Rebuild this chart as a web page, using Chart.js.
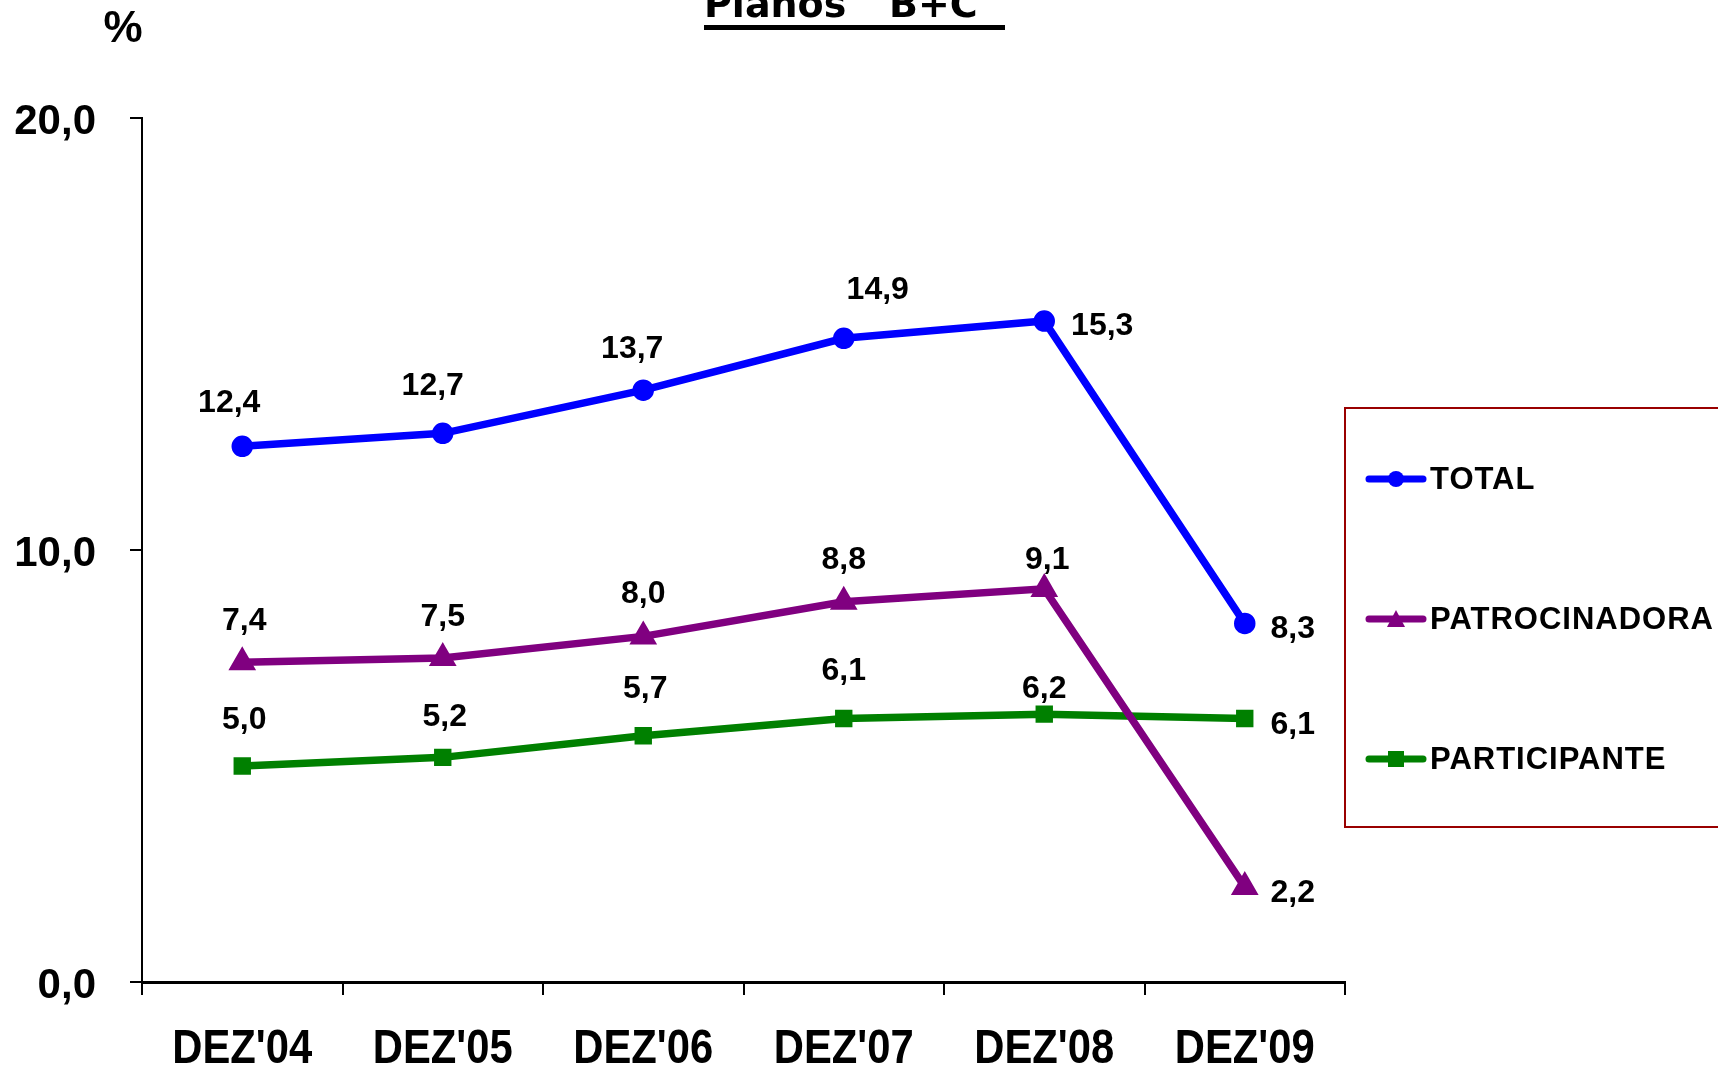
<!DOCTYPE html>
<html>
<head>
<meta charset="utf-8">
<script src="https://cdn.jsdelivr.net/npm/chart.js@4"></script>
<style>
  body { margin: 0; background: #fff; }
  canvas { display: block; }
</style>
</head>
<body>
<canvas id="grafico" width="1718" height="1067"></canvas>
<script>
// dados do gráfico
const categorias = ["DEZ'04", "DEZ'05", "DEZ'06", "DEZ'07", "DEZ'08", "DEZ'09"];
const total = [12.4, 12.7, 13.7, 14.9, 15.3, 8.3];
const patrocinadora = [7.4, 7.5, 8.0, 8.8, 9.1, 2.2];
const participante = [5.0, 5.2, 5.7, 6.1, 6.2, 6.1];
const ticksY = [0, 10, 20];

// deslocamento dos rótulos em relação ao ponto (px)
const offTotal = [[-13, -43], [-10, -47], [-11, -41], [34, -48], [58, 5], [48, 6]];
const offPatroc = [[2, -41], [0, -41], [0, -42], [0, -42], [3, -29], [48, 6]];
const offPartic = [[2, -46], [2, -40], [2, -47], [0, -47], [0, -25], [48, 7]];

const fmt = v => v.toFixed(1).replace('.', ',');
const BOLD = '"Liberation Sans", Arial, sans-serif';

// rótulos de valor
const rotulos = {
  id: 'rotulos',
  afterDatasetsDraw(chart) {
    const ctx = chart.ctx;
    ctx.save();
    ctx.font = 'bold 32px ' + BOLD;
    ctx.fillStyle = '#000';
    ctx.textAlign = 'center';
    ctx.textBaseline = 'middle';
    chart.data.datasets.forEach((ds, i) => {
      const meta = chart.getDatasetMeta(i);
      meta.data.forEach((p, j) => {
        const o = ds.offsets[j];
        ctx.fillText(fmt(ds.data[j]), p.x + o[0], p.y + o[1]);
      });
    });
    ctx.restore();
  }
};

// rótulos do eixo x em fonte estreita (comprime a bold)
const eixoX = {
  id: 'eixoX',
  afterDraw(chart) {
    const ctx = chart.ctx;
    const sx = chart.scales.x;
    ctx.save();
    ctx.font = 'bold 48px ' + BOLD;
    ctx.fillStyle = '#000';
    ctx.textAlign = 'center';
    ctx.textBaseline = 'middle';
    categorias.forEach((c, i) => {
      const x = sx.getPixelForTick(i);
      ctx.save();
      ctx.translate(x, 1050);
      ctx.scale(0.87, 1);
      ctx.fillText(c, 0, 0);
      ctx.restore();
    });
    ctx.restore();
  }
};

// título, "%" e legenda com moldura
const extras = {
  id: 'extras',
  afterDraw(chart) {
    const ctx = chart.ctx;
    ctx.save();
    ctx.fillStyle = '#000';
    ctx.font = 'bold 38px "DejaVu Sans", sans-serif';
    ctx.textBaseline = 'alphabetic';
    ctx.textAlign = 'left';
    ctx.fillText('Planos', 704, 17);
    ctx.fillText('B+C', 889, 17);
    ctx.fillRect(704, 25, 301, 5);

    ctx.font = 'bold 44px ' + BOLD;
    ctx.textAlign = 'center';
    ctx.textBaseline = 'middle';
    ctx.fillText('%', 123, 30);

    // moldura da legenda
    ctx.strokeStyle = '#990000';
    ctx.lineWidth = 2;
    ctx.strokeRect(1345, 408, 400, 419);

    const linhas = [479, 619, 759];
    chart.data.datasets.forEach((ds, i) => {
      const y = linhas[i];
      ctx.strokeStyle = ds.borderColor;
      ctx.lineWidth = 7;
      ctx.lineCap = 'round';
      ctx.beginPath();
      ctx.moveTo(1369, y);
      ctx.lineTo(1423, y);
      ctx.stroke();
      ctx.fillStyle = ds.borderColor;
      if (ds.pointStyle === 'circle') {
        ctx.beginPath();
        ctx.arc(1396, y, 8, 0, Math.PI * 2);
        ctx.fill();
      } else if (ds.pointStyle === 'triangle') {
        ctx.beginPath();
        ctx.moveTo(1396, y - 9);
        ctx.lineTo(1405, y + 8);
        ctx.lineTo(1387, y + 8);
        ctx.closePath();
        ctx.fill();
      } else {
        ctx.fillRect(1388, y - 8, 16, 16);
      }
      ctx.fillStyle = '#000';
      ctx.font = 'bold 31px ' + BOLD;
      ctx.letterSpacing = '1px';
      ctx.textAlign = 'left';
      ctx.textBaseline = 'middle';
      ctx.fillText(ds.label, 1430, y + 1);
      ctx.letterSpacing = '0px';
    });
    ctx.restore();
  }
};

new Chart(document.getElementById('grafico').getContext('2d'), {
  type: 'line',
  data: {
    labels: categorias,
    datasets: [
      { label: 'TOTAL', data: total, offsets: offTotal, borderColor: '#0000ff', backgroundColor: '#0000ff',
        pointStyle: 'circle', pointRadius: 7, borderWidth: 7.5 },
      { label: 'PATROCINADORA', data: patrocinadora, offsets: offPatroc, borderColor: '#800080', backgroundColor: '#800080',
        pointStyle: 'triangle', pointRadius: 8.5, borderWidth: 7.5 },
      { label: 'PARTICIPANTE', data: participante, offsets: offPartic, borderColor: '#008000', backgroundColor: '#008000',
        pointStyle: 'rect', pointRadius: 7, borderWidth: 7.5 }
    ]
  },
  options: {
    responsive: false,
    animation: false,
    devicePixelRatio: 1,
    layout: { padding: { top: 118, right: 373, left: 0, bottom: 0 } },
    plugins: {
      legend: { display: false },
      tooltip: { enabled: false }
    },
    elements: { line: { tension: 0 }, point: { borderWidth: 0 } },
    scales: {
      x: {
        offset: true,
        grid: { offset: true, drawOnChartArea: false, drawTicks: true, tickLength: 13, color: '#000', lineWidth: 2 },
        border: { display: true, color: '#000', width: 3 },
        ticks: { display: false },
        afterFit: s => { s.height = 85; }
      },
      y: {
        min: 0, max: 20,
        afterBuildTicks: s => { s.ticks = ticksY.map(v => ({ value: v })); },
        grid: { drawOnChartArea: false, drawTicks: true, tickLength: 12, color: '#000', lineWidth: 2 },
        border: { display: true, color: '#000', width: 2 },
        ticks: { color: '#000', font: { family: BOLD, size: 42, weight: 'bold' }, padding: 34, labelOffset: 4, callback: v => fmt(v) },
        afterFit: s => { s.width = 142; }
      }
    }
  },
  plugins: [rotulos, eixoX, extras]
});
</script>
</body>
</html>
